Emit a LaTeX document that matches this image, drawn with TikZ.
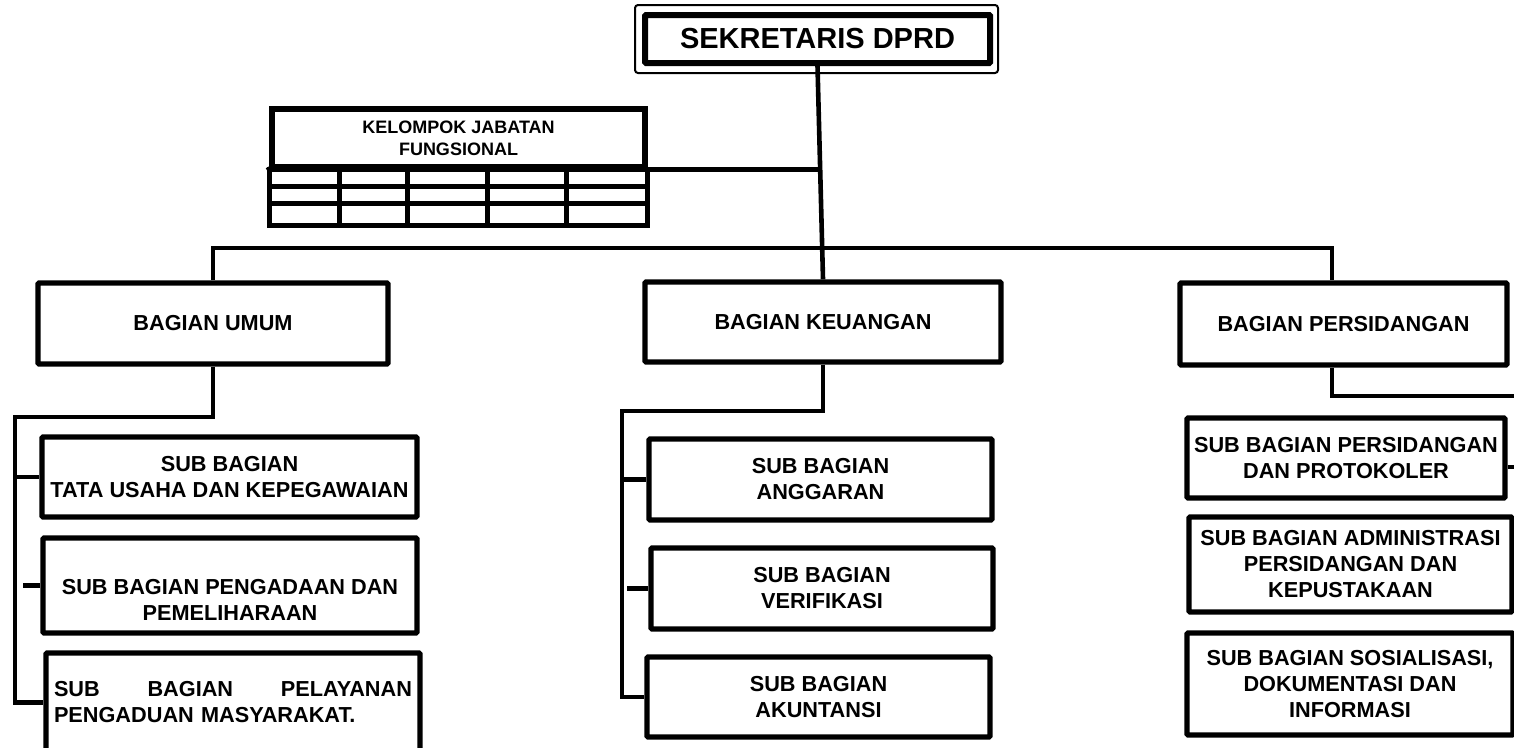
\documentclass[tikz,border=0pt]{standalone}
\usepackage{fontspec}
\setmainfont{Liberation Sans}
\usetikzlibrary{calc}
\newcommand{\toptxt}{\fontsize{29}{34}\selectfont\bfseries}
\newcommand{\boxtxt}{\fontsize{21.7}{26}\selectfont\bfseries}
\newcommand{\kjftxt}{\fontsize{18}{22}\selectfont\bfseries}

\begin{document}
\begin{tikzpicture}[x=1pt, y=-1pt,
  box/.style={draw, line width=5.2pt, rounded corners=1pt, inner sep=0pt, align=center, font=\boxtxt},
  grid/.style={line width=5pt},
  link/.style={line width=4.6pt}]
  \clip (0,0) rectangle (1514,747);

  \node[box, line width=6pt, minimum width=345pt, minimum height=48pt, font=\toptxt] at (817.5,39) (sek) {SEKRETARIS DPRD};
  \draw[line width=2pt, rounded corners=3pt] ([shift={(-7,-7)}]sek.north west) rectangle ([shift={(5,7)}]sek.south east);

  % kelompok jabatan fungsional
  \node[box, rounded corners=0pt, minimum width=373pt, minimum height=58pt, font=\kjftxt] at (458.5,138) (kjf) {KELOMPOK JABATAN\\FUNGSIONAL};
  \draw[grid] (kjf.south west) rectangle ([yshift=-56pt]kjf.south east);
  \draw[grid] (268,167) -- (kjf.south west);
  \foreach \y in {186,203}
    \draw[grid] (268,\y) -- (645,\y);
  \foreach \x in {339,407,487,566}
    \draw[grid] (\x,167) -- (\x,223);

  % bagian
  \node[box, minimum width=350pt, minimum height=81pt] at (213,323.5) (umum) {BAGIAN UMUM};
  \node[box, minimum width=356pt, minimum height=80pt] at (823,322) (keu) {BAGIAN KEUANGAN};
  \node[box, minimum width=327pt, minimum height=82pt] at (1343.5,324) (pers) {BAGIAN PERSIDANGAN};

  % sub bagian umum
  \node[box, minimum width=375pt, minimum height=80pt] at (229.5,477) (umum1) {SUB BAGIAN\\TATA USAHA DAN KEPEGAWAIAN};
  \node[box, minimum width=374pt, minimum height=95pt] at (230,585.5) (umum2) {};
  \node[font=\boxtxt, align=center, inner sep=0pt] at ([yshift=-14.5pt]umum2.center) (umum2txt) {SUB BAGIAN PENGADAAN DAN\\PEMELIHARAAN};
  \node[box, minimum width=374pt, minimum height=99pt, text width=358pt, align=left] at (233,702.5) (umum3) {SUB\hfill BAGIAN\hfill PELAYANAN\\PENGADUAN MASYARAKAT.};

  % sub bagian keuangan
  \node[box, minimum width=343pt, minimum height=81pt] at (820.5,479.5) (keu1) {SUB BAGIAN\\ANGGARAN};
  \node[box, minimum width=342pt, minimum height=81pt] at (822,588.5) (keu2) {SUB BAGIAN\\VERIFIKASI};
  \node[box, minimum width=343pt, minimum height=80pt] at (818.5,697) (keu3) {SUB BAGIAN\\AKUNTANSI};

  % sub bagian persidangan
  \node[box, minimum width=318pt, minimum height=80pt] at (1346,458) (pers1) {SUB BAGIAN PERSIDANGAN\\DAN PROTOKOLER};
  \node[box, minimum width=323pt, minimum height=95pt] at (1350.5,564.5) (pers2) {SUB BAGIAN ADMINISTRASI\\PERSIDANGAN DAN\\KEPUSTAKAAN};
  \node[box, minimum width=326pt, minimum height=102pt] at (1350,684) (pers3) {SUB BAGIAN SOSIALISASI,\\DOKUMENTASI DAN\\INFORMASI};

  % garis
  \coordinate (bus) at (823,248);
  \draw[link] (sek.south) -- (keu.north);
  \draw[link] (umum.north) |- (bus) -| ([xshift=-11.5pt]pers.north);
  \draw[link] (kjf.south east) -- (kjf.south east -| sek.south);

  \coordinate (umumbar) at (15,417);
  \draw[link] (umum.south) |- (umumbar) |- (umum3.west);
  \draw[link] (umumbar |- umum1.west) -- (umum1.west);
  \draw[link] ($(umumbar |- umum2.west)+(8,0)$) -- (umum2.west);

  \coordinate (keubar) at (622,411);
  \draw[link] (keu.south) |- (keubar) |- (keu3.west);
  \draw[link] (keubar |- keu1.west) -- (keu1.west);
  \draw[link] ($(keubar |- keu2.west)+(5,0)$) -- (keu2.west);

  \coordinate (persbar) at (1514,396);
  \draw[link] ([xshift=-11.5pt]pers.south) |- (persbar);
  \draw[link] ([yshift=-9pt]pers1.east) -- ([yshift=-9pt]pers1.east -| persbar);
  \draw[link] ([yshift=-5pt]pers2.east) -- ([yshift=-5pt]pers2.east -| persbar);
\end{tikzpicture}
\end{document}
